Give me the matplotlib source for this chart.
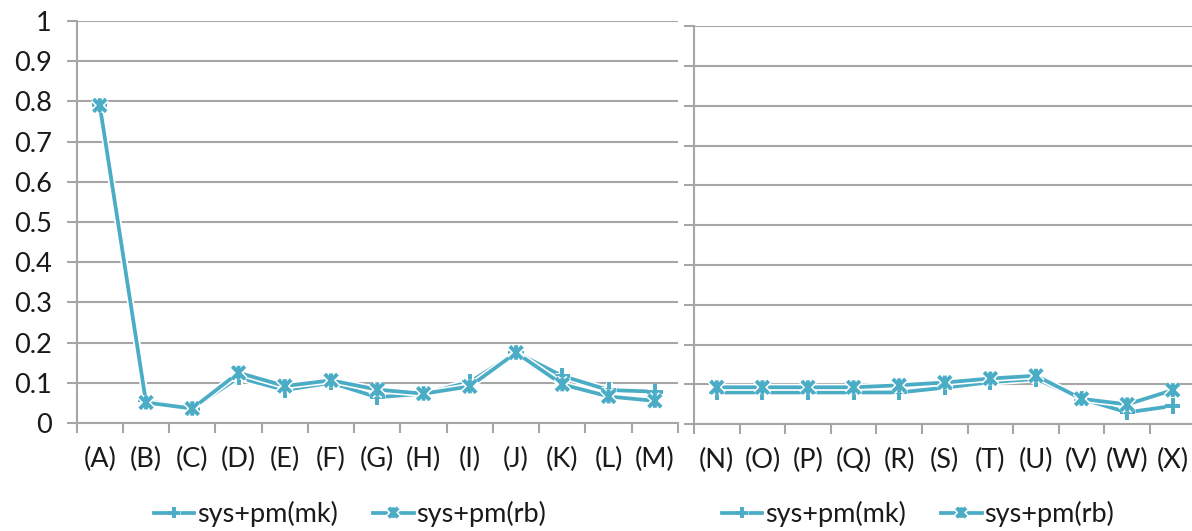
import numpy as np
import matplotlib
matplotlib.use('Agg')
import matplotlib.pyplot as plt
from matplotlib.path import Path
import matplotlib.patheffects as pe

# dane
kat_lewe = ['(A)', '(B)', '(C)', '(D)', '(E)', '(F)', '(G)', '(H)', '(I)', '(J)', '(K)', '(L)', '(M)']
mk_lewe = [0.79, 0.056, 0.036, 0.113, 0.082, 0.100, 0.064, 0.073, 0.102, 0.175, 0.117, 0.082, 0.078]
rb_lewe = [0.79, 0.051, 0.036, 0.125, 0.092, 0.106, 0.083, 0.073, 0.091, 0.175, 0.096, 0.066, 0.055]

kat_prawe = ['(N)', '(O)', '(P)', '(Q)', '(R)', '(S)', '(T)', '(U)', '(V)', '(W)', '(X)']
mk_prawe = [0.080, 0.080, 0.080, 0.080, 0.080, 0.092, 0.106, 0.114, 0.064, 0.030, 0.046]
rb_prawe = [0.093, 0.093, 0.093, 0.093, 0.098, 0.105, 0.115, 0.122, 0.064, 0.050, 0.086]

etykiety = ['sys+pm(mk)', 'sys+pm(rb)']
y_ticki = [0, 0.1, 0.2, 0.3, 0.4, 0.5, 0.6, 0.7, 0.8, 0.9, 1]

KOLOR = '#4BACC6'
SZARY = '#A6A6A6'
TEKST = '#1a1a1a'
ROZMIAR = 19.5
plt.rcParams['font.family'] = ['Lato', 'DejaVu Sans']

# marker "gwiazdka" jak w Excelu
gwiazdka = Path([(-1, -1), (1, 1), (-1, 1), (1, -1), (0, -1.1), (0, 1.1)],
                [Path.MOVETO, Path.LINETO, Path.MOVETO, Path.LINETO, Path.MOVETO, Path.LINETO])
obwodka = [pe.withStroke(linewidth=5, foreground='white')]

fig = plt.figure(figsize=(11.92, 5.31), dpi=100)
ax1 = fig.add_axes([0.0643, 0.2034, 0.5045, 0.7571])
ax2 = fig.add_axes([0.5822, 0.2009, 0.4208, 0.7501])


def rysuj(ax, kategorie, mk, rb, etykiety_y, srodek_legendy):
    x = np.arange(len(kategorie))
    ax.plot(x, mk, color=KOLOR, lw=2.7, marker='+', ms=11, mew=2.8,
            path_effects=obwodka, label=etykiety[0], zorder=3)
    ax.plot(x, rb, color=KOLOR, lw=2.7, marker=gwiazdka, ms=10, mew=2.8,
            path_effects=obwodka, label=etykiety[1], zorder=4)
    ax.set_xlim(-0.5, len(kategorie) - 0.5)
    ax.set_ylim(0, 1)
    ax.set_yticks(y_ticki)
    if etykiety_y:
        ax.set_yticklabels([f'{v:g}' for v in y_ticki])
    else:
        ax.set_yticklabels([])
    ax.grid(axis='y', color=SZARY, lw=1.5)
    ax.set_axisbelow(True)
    for s in ['top', 'right']:
        ax.spines[s].set_visible(False)
    for s in ['left', 'bottom']:
        ax.spines[s].set_color(SZARY)
        ax.spines[s].set_linewidth(1.5)
    # ticki na granicach kategorii, podpisy na srodku
    ax.set_xticks(np.arange(len(kategorie) + 1) - 0.5)
    ax.set_xticklabels([])
    ax.set_xticks(x, minor=True)
    ax.set_xticklabels(kategorie, minor=True, fontsize=ROZMIAR, color=TEKST)
    ax.tick_params(axis='x', which='major', length=7, width=1.5, color=SZARY)
    ax.tick_params(axis='x', which='minor', length=0, pad=17)
    ax.tick_params(axis='y', length=7, width=1.5, color=SZARY, labelsize=ROZMIAR,
                   labelcolor=TEKST, pad=11)
    uchwyty, napisy = ax.get_legend_handles_labels()
    fig.legend(uchwyty, napisy, loc='center', bbox_to_anchor=(srodek_legendy, 0.032),
               ncol=2, frameon=False, fontsize=ROZMIAR, handlelength=1.5,
               handletextpad=0.1, columnspacing=1.3, markerscale=0.75,
               labelcolor=TEKST, borderpad=0)


rysuj(ax1, kat_lewe, mk_lewe, rb_lewe, True, 0.2936)
rysuj(ax2, kat_prawe, mk_prawe, rb_prawe, False, 0.770)

fig.savefig('out.png', dpi=100)
